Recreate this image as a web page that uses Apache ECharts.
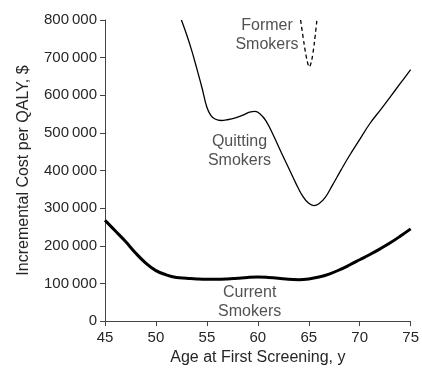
<!DOCTYPE html>
<html>
<head>
<meta charset="utf-8">
<script src="https://cdn.jsdelivr.net/npm/echarts@6/dist/echarts.min.js"></script>
<style>html,body{margin:0;padding:0;background:#fff}#c{width:422px;height:371px}</style>
</head>
<body>
<div id="c"></div>
<script>
// Ages (x) and incremental cost per QALY (y)
const currentAges = [45,46,47,48,49,50,51,52,53,54,55,56,57,58,59,60,61,62,63,64,65,66,67,68,69,70,71,72,73,74,75];
const currentCost = [268000,240000,212000,181000,154000,134000,123000,116000,114000,112000,111000,111000,112000,114000,116000,117000,116000,114000,111000,110000,112000,117000,125000,136000,149000,163000,177000,192000,208000,226000,245000];

const quittingAges = [52.5,53,53.5,54,54.5,55,55.4,55.8,56.4,57,57.8,58.6,59.2,59.7,60.2,60.8,61.5,62.3,63,63.7,64.4,65,65.5,66,66.6,67.3,68.2,69,69.8,71,72,73,74,75];
const quittingCost = [800000,762000,720000,672000,622000,568000,546000,537000,533000,535000,540000,548000,555000,557000,551000,532000,495000,448000,408000,368000,332000,313000,307000,312000,328000,360000,403000,440000,474000,525000,560000,596000,632000,668000];

const formerAges = [64.2,64.55,64.85,65.05,65.3,65.55,65.8];
const formerCost = [800000,735000,690000,675000,695000,740000,800000];

const labelTexts = ['Former\nSmokers','Quitting\nSmokers','Current\nSmokers'];
const labelAges = [60.9,58.2,59.2];
const labelCosts = [760000,452000,50000];

const xTicks = [45,50,55,60,65,70,75];
const yMax = 800000;

const zip = (a,b) => a.map((v,i)=>[v,b[i]]);
const fmt = v => { if (v===0) return '0'; const s=String(v); return s.slice(0,s.length-3)+'\u2009'+s.slice(-3); };
const font = 'Liberation Sans';
const txt = '#262626';
const axisColor = '#444';

const chart = echarts.init(document.getElementById('c'), null, {renderer:'canvas'});
chart.setOption({
  animation:false,
  grid:{left:105,right:9,top:20,bottom:49,containLabel:false},
  xAxis:{
    type:'value',min:xTicks[0],max:xTicks[xTicks.length-1],interval:5,
    name:'Age at First Screening, y',nameLocation:'middle',nameGap:24,
    nameTextStyle:{fontFamily:font,fontSize:16,color:txt},
    axisLine:{onZero:false,lineStyle:{color:axisColor,width:1}},
    axisTick:{show:true,length:5,inside:false,lineStyle:{color:axisColor}},
    axisLabel:{fontFamily:font,fontSize:15,color:txt,margin:9},
    splitLine:{show:false}
  },
  yAxis:{
    type:'value',min:0,max:yMax,interval:100000,
    name:'Incremental Cost per QALY, $',nameLocation:'middle',nameGap:73,
    nameTextStyle:{fontFamily:font,fontSize:16,color:txt},
    axisLine:{show:true,lineStyle:{color:axisColor,width:1}},
    axisTick:{show:true,length:5,lineStyle:{color:axisColor}},
    axisLabel:{fontFamily:font,fontSize:15,color:txt,margin:8,formatter:fmt},
    splitLine:{show:false}
  },
  series:[
    {type:'line',data:zip(currentAges,currentCost),smooth:0.4,symbol:'none',
     lineStyle:{color:'#000',width:3}},
    {type:'line',data:zip(quittingAges,quittingCost),smooth:0.4,symbol:'none',
     lineStyle:{color:'#000',width:1.3}},
    {type:'line',data:zip(formerAges,formerCost),smooth:0.3,symbol:'none',
     lineStyle:{color:'#000',width:1.3,type:[4,3]}},
    {type:'scatter',symbolSize:0,silent:true,
     data:labelTexts.map((t,i)=>({value:[labelAges[i],labelCosts[i]],name:t})),
     label:{show:true,position:'inside',formatter:p=>p.name,fontFamily:font,fontSize:16,color:txt,lineHeight:19,align:'center'}}
  ]
});
</script>
</body>
</html>
